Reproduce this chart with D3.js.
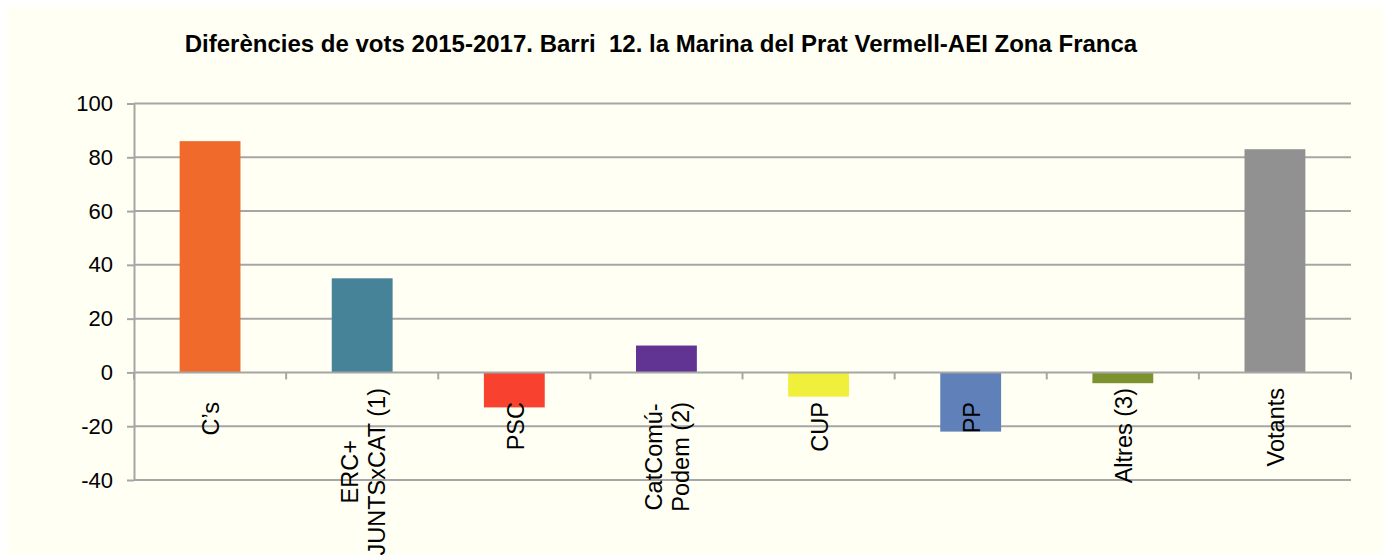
<!DOCTYPE html>
<html>
<head>
<meta charset="utf-8">
<script src="https://cdn.jsdelivr.net/npm/d3@7"></script>
<style>
  html, body { margin: 0; padding: 0; background: #ffffff; }
  svg { display: block; font-family: "Liberation Sans", Arial, sans-serif; }
</style>
</head>
<body>
<div id="chart"></div>
<script>
// Data
var title = "Diferències de vots 2015-2017. Barri  12. la Marina del Prat Vermell-AEI Zona Franca";
var categories = ["C’s", "ERC+|JUNTSxCAT (1)", "PSC", "CatComú-|Podem (2)", "CUP", "PP", "Altres (3)", "Votants"];
var values = [86, 35, -13, 10, -9, -22, -4, 83];
var colors = ["#f06a2c", "#468398", "#f8412e", "#613494", "#f0f03c", "#5f80b8", "#7b922f", "#919191"];
var yTicks = [-40, -20, 0, 20, 40, 60, 80, 100];

var width = 1388,
    height = 555;

// plot area
var plotLeft = 134, plotRight = 1351, plotTop = 103.5, plotBottom = 480;

var svg = d3.select("#chart")
            .append("svg")
            .attr("width", width)
            .attr("height", height);

// cream panel
svg.append("rect")
   .attr("x", 7).attr("y", 7)
   .attr("width", 1376).attr("height", height - 7)
   .attr("fill", "#fffff3");

var x = d3.scaleBand()
          .domain(d3.range(categories.length))
          .range([plotLeft, plotRight])
          .paddingInner(0.6)
          .paddingOuter(0.3);

var xBound = d3.scaleLinear()
               .domain([0, categories.length])
               .range([plotLeft, plotRight]);

var y = d3.scaleLinear()
          .domain([-40, 100])
          .range([plotBottom, plotTop]);

// Gridlines
svg.append("g")
   .selectAll("line")
   .data(yTicks.filter(d => d !== 0))
   .enter().append("line")
   .attr("x1", plotLeft).attr("x2", plotRight)
   .attr("y1", d => y(d)).attr("y2", d => y(d))
   .attr("stroke", "#a6a6a6")
   .attr("stroke-width", 2);

// y axis (plain hyphen for negatives, like the original)
var yAxis = d3.axisLeft(y)
              .tickValues(yTicks)
              .tickSize(7)
              .tickPadding(14)
              .tickSizeOuter(0)
              .tickFormat(d => String(d));

var gy = svg.append("g")
            .attr("transform", "translate(" + plotLeft + ",0)")
            .call(yAxis);
gy.select(".domain").attr("stroke", "#a6a6a6").attr("stroke-width", 2);
gy.selectAll(".tick line").attr("stroke", "#a6a6a6").attr("stroke-width", 2);
gy.selectAll(".tick text")
  .attr("font-size", 22)
  .attr("fill", "#000")
  .attr("font-family", "Liberation Sans, Arial, sans-serif");

// Bars
svg.append("g")
   .selectAll("rect")
   .data(values)
   .enter().append("rect")
   .attr("x", (d, i) => x(i))
   .attr("width", x.bandwidth())
   .attr("y", d => y(Math.max(0, d)))
   .attr("height", d => Math.abs(y(d) - y(0)))
   .attr("fill", (d, i) => colors[i]);

// Category axis on zero line
svg.append("line")
   .attr("x1", plotLeft).attr("x2", plotRight)
   .attr("y1", y(0)).attr("y2", y(0))
   .attr("stroke", "#a6a6a6")
   .attr("stroke-width", 2);

svg.append("g")
   .selectAll("line")
   .data(d3.range(categories.length + 1))
   .enter().append("line")
   .attr("x1", d => xBound(d)).attr("x2", d => xBound(d))
   .attr("y1", y(0)).attr("y2", y(0) + 7)
   .attr("stroke", "#a6a6a6")
   .attr("stroke-width", 2);

// Rotated category labels (top edge of each label, as placed in the original)
var labelTop = [402, 388, 402, 402, 402, 402, 388, 388];
var labelSize = 23.5, lineGap = 27;

var labels = svg.append("g")
                .selectAll("text")
                .data(categories)
                .enter().append("text")
                .attr("font-size", labelSize)
                .attr("fill", "#000")
                .attr("text-anchor", "middle");

labels.each(function(d, i) {
    var lines = d.split("|");
    var t = d3.select(this);
    lines.forEach(function(line, k) {
        t.append("tspan")
         .attr("x", 0)
         .attr("y", (k - (lines.length - 1) / 2) * lineGap)
         .attr("dy", "0.35em")
         .text(line);
    });
    // longest line decides where the block starts
    var longest = d3.max(t.selectAll("tspan").nodes(), n => n.getComputedTextLength());
    var cx = x(i) + x.bandwidth() / 2 + 1;
    var cy = labelTop[i] + longest / 2;
    t.attr("transform", "translate(" + cx + "," + cy + ") rotate(-90)");
});

// Title
svg.append("text")
   .attr("x", 661)
   .attr("y", 52)
   .attr("text-anchor", "middle")
   .attr("font-size", 24)
   .attr("font-weight", "bold")
   .attr("fill", "#000")
   .style("white-space", "pre")
   .text(title);
</script>
</body>
</html>
